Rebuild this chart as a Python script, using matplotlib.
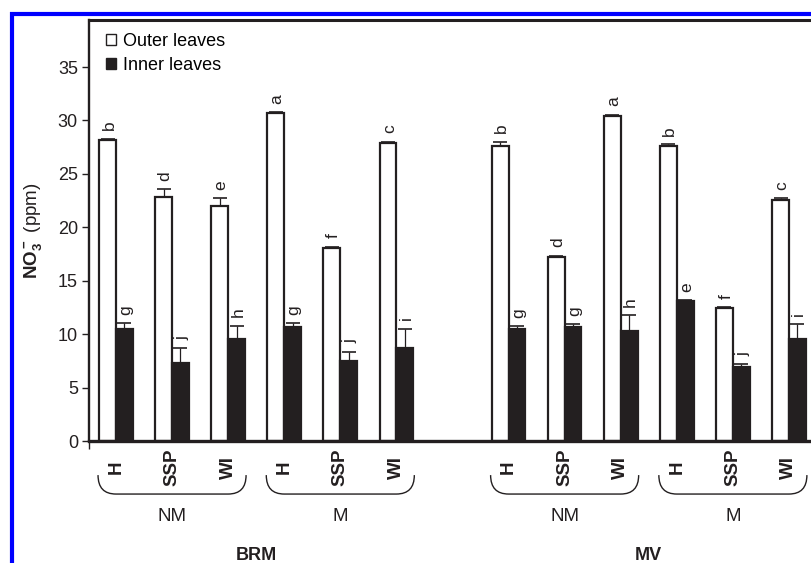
import numpy as np
import matplotlib.pyplot as plt
from matplotlib.patches import Patch, PathPatch
from matplotlib.path import Path
from matplotlib.lines import Line2D
import matplotlib.transforms as mtransforms

plt.rcParams['font.family'] = ['Liberation Sans', 'DejaVu Sans']
plt.rcParams['mathtext.fontset'] = 'custom'
plt.rcParams['mathtext.rm'] = 'Liberation Sans'
plt.rcParams['mathtext.bf'] = 'Liberation Sans:bold'

# NO3- content (ppm), cultivars BRM and MV, NM / M, treatments H, SSP, WI
treatments = ["H", "SSP", "WI", "H", "SSP", "WI"]
managements = ["NM", "M"]
cultivars = ["BRM", "MV"]

brm_outer = [28.2, 22.8, 22.0, 30.7, 18.1, 27.9]
brm_outer_err = [0.1, 0.75, 0.75, 0.1, 0.1, 0.1]
brm_inner = [10.5, 7.3, 9.5, 10.7, 7.5, 8.7]
brm_inner_err = [0.5, 1.4, 1.3, 0.3, 0.85, 1.8]

mv_outer = [27.6, 17.25, 30.45, 27.65, 12.45, 22.6]
mv_outer_err = [0.4, 0.1, 0.1, 0.1, 0.1, 0.1]
mv_inner = [10.5, 10.7, 10.3, 13.1, 6.9, 9.5]
mv_inner_err = [0.25, 0.25, 1.5, 0.1, 0.3, 1.45]

brm_outer_letters = ["b", "d", "e", "a", "f", "c"]
brm_inner_letters = ["g", "j", "h", "g", "j", "i"]
mv_outer_letters = ["b", "d", "a", "b", "f", "c"]
mv_inner_letters = ["g", "g", "h", "e", "j", "i"]

outer = np.array(brm_outer + mv_outer)
outer_err = np.array(brm_outer_err + mv_outer_err)
inner = np.array(brm_inner + mv_inner)
inner_err = np.array(brm_inner_err + mv_inner_err)
outer_letters = brm_outer_letters + mv_outer_letters
inner_letters = brm_inner_letters + mv_inner_letters

# one empty slot between the two cultivars
slots = np.array([0, 1, 2, 3, 4, 5, 7, 8, 9, 10, 11, 12], dtype=float)
w = 0.30
ink = "#231f20"

fig = plt.figure(figsize=(8.11, 5.63), dpi=100)
ax = fig.add_axes([89 / 811, 122 / 563, 1 - 89 / 811, 421 / 563])

ax.bar(slots - w / 2, outer, w, color="white", edgecolor=ink, linewidth=1.6, zorder=2)
ax.bar(slots + w / 2, inner, w, color=ink, edgecolor=ink, linewidth=1.6, zorder=2)

zeros = np.zeros_like(outer)
ax.errorbar(slots - w / 2, outer, yerr=[zeros, outer_err], fmt="none",
            ecolor=ink, elinewidth=0.9, capsize=5, capthick=1.2, zorder=3)
ax.errorbar(slots + w / 2, inner, yerr=[zeros, inner_err], fmt="none",
            ecolor=ink, elinewidth=0.9, capsize=5, capthick=1.2, zorder=3)

for x, v, e, t in zip(slots - w / 2, outer, outer_err, outer_letters):
    ax.annotate(t, (x, v + e), xytext=(1, 6), textcoords="offset points",
                rotation=90, ha="center", va="bottom", fontsize=12.5, color=ink)
for x, v, e, t in zip(slots + w / 2, inner, inner_err, inner_letters):
    ax.annotate(t, (x, v + e), xytext=(1, 6), textcoords="offset points",
                rotation=90, ha="center", va="bottom", fontsize=12.5, color=ink)

x_left = -0.481
ax.set_xlim(x_left, 12.393)
ax.set_ylim(0, 39.4)
ax.set_yticks([0, 5, 10, 15, 20, 25, 30, 35])
ax.tick_params(axis="y", direction="out", length=5, width=1, labelsize=13,
               pad=3, colors=ink)
ax.set_xticks([])
ax.set_xticks([x_left], minor=True)
ax.tick_params(axis="x", which="minor", direction="out", length=6, width=1, colors=ink)

for side in ["left", "top", "bottom"]:
    ax.spines[side].set_color(ink)
ax.spines["left"].set_linewidth(1.7)
ax.spines["top"].set_linewidth(2.2)
ax.spines["bottom"].set_linewidth(2.4)
ax.spines["right"].set_visible(False)

ax.set_ylabel(r"$\mathbf{NO_3^-}$ (ppm)", fontsize=13.5, color=ink, labelpad=10)

# treatment labels, braces, management and cultivar labels below the axis
trans = mtransforms.blended_transform_factory(ax.transData, ax.transAxes)
for x, t in zip(slots, treatments * 2):
    ax.text(x, -0.062, t, rotation=90, ha="center", va="center", fontsize=13.5,
            fontweight="bold", color=ink, transform=trans, clip_on=False)

group_starts = [0, 3, 7, 10]
y_top, y_bot = -0.081, -0.126
r = 0.32
for g, start in enumerate(group_starts):
    x0 = start - 0.32
    x1 = start + 2 + 0.32
    verts = [(x0, y_top), (x0, y_bot), (x0 + r, y_bot),
             (x1 - r, y_bot), (x1, y_bot), (x1, y_top)]
    codes = [Path.MOVETO, Path.CURVE3, Path.CURVE3,
             Path.LINETO, Path.CURVE3, Path.CURVE3]
    ax.add_patch(PathPatch(Path(verts, codes), facecolor="none", edgecolor=ink,
                           linewidth=1.0, transform=trans, clip_on=False))
    ax.text(start + 1, -0.18, managements[g % 2], ha="center", va="center",
            fontsize=13.5, color=ink, transform=trans, clip_on=False)

for c, center in zip(cultivars, [2.5, 9.5]):
    ax.text(center, -0.272, c, ha="center", va="center", fontsize=13,
            fontweight="bold", color=ink, transform=trans, clip_on=False)

handles = [Patch(facecolor="white", edgecolor=ink, linewidth=1.0, label="Outer leaves"),
           Patch(facecolor=ink, edgecolor=ink, linewidth=1.0, label="Inner leaves")]
ax.legend(handles=handles, loc="upper left", bbox_to_anchor=(0.024, 0.97),
          frameon=False, fontsize=13, handlelength=0.55, handleheight=0.55,
          handletextpad=0.4, labelspacing=0.42, borderpad=0, borderaxespad=0)

# blue frame along the left and top edges
fig.add_artist(Line2D([12 / 811, 12 / 811], [0, 1 - 12 / 563], color="#0000ff",
                      linewidth=3, solid_capstyle="butt", transform=fig.transFigure))
fig.add_artist(Line2D([10 / 811, 1], [1 - 14 / 563, 1 - 14 / 563], color="#0000ff",
                      linewidth=3, solid_capstyle="butt", transform=fig.transFigure))

fig.savefig("out.png", dpi=100)
